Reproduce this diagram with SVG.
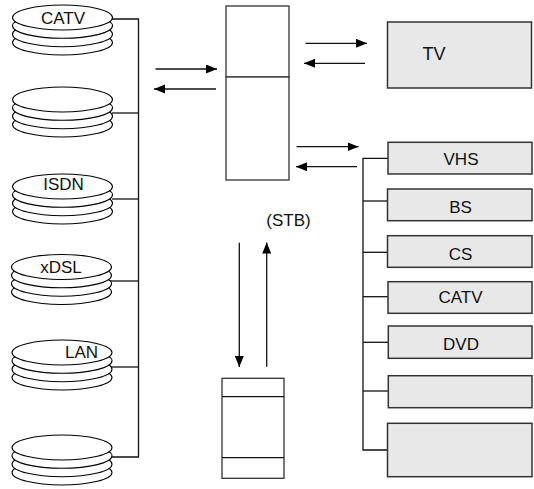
<svg xmlns="http://www.w3.org/2000/svg" width="534" height="489" viewBox="0 0 534 489">
<style>
text{font-family:"Liberation Sans",Arial,sans-serif;font-size:17px;fill:#111;text-anchor:middle}
.disk ellipse{fill:#fff;stroke:#000;stroke-width:1.1}
.box{fill:#e8e8e8;stroke:#333;stroke-width:1.5}
.wb{fill:#fff;stroke:#333;stroke-width:1.3}
.ln{fill:none;stroke:#111;stroke-width:1.3}
.ar{fill:none;stroke:#111;stroke-width:1.3;marker-end:url(#ah)}
</style>
<defs>
<marker id="ah" markerUnits="userSpaceOnUse" markerWidth="12" markerHeight="10" refX="11" refY="4.5" orient="auto">
<path d="M0,0 L11,4.5 L0,9 z" fill="#000"/>
</marker>
<g id="stack" class="disk">
<ellipse cx="0" cy="37.5" rx="50" ry="12.5"/>
<ellipse cx="0" cy="29.2" rx="50" ry="12.5"/>
<ellipse cx="0" cy="20.8" rx="50" ry="12.5"/>
<ellipse cx="0" cy="12.5" rx="50" ry="12.5"/>
</g>
</defs>

<g id="connectors">
<polyline class="ln" points="112,19 138.5,19 138.5,457 112,457"/>
<line class="ln" x1="112" y1="113" x2="138.5" y2="113"/>
<line class="ln" x1="112" y1="199" x2="138.5" y2="199"/>
<line class="ln" x1="110" y1="281" x2="138.5" y2="281"/>
<line class="ln" x1="110" y1="367" x2="138.5" y2="367"/>
<polyline class="ln" points="388,158.3 363,158.3 363,450 388,450"/>
<line class="ln" x1="363" y1="201" x2="388" y2="201"/>
<line class="ln" x1="363" y1="252.3" x2="388" y2="252.3"/>
<line class="ln" x1="363" y1="296.7" x2="388" y2="296.7"/>
<line class="ln" x1="363" y1="342.3" x2="388" y2="342.3"/>
<line class="ln" x1="363" y1="391" x2="388" y2="391"/>
<line class="ar" x1="155.5" y1="69" x2="217" y2="69"/>
<line class="ar" x1="216" y1="89" x2="154" y2="89"/>
<line class="ar" x1="305.5" y1="43.3" x2="367" y2="43.3"/>
<line class="ar" x1="365" y1="63.3" x2="304" y2="63.3"/>
<line class="ar" x1="296.5" y1="146.7" x2="358.5" y2="146.7"/>
<line class="ar" x1="357" y1="166.7" x2="296" y2="166.7"/>
<line class="ar" x1="239.3" y1="242.7" x2="239.3" y2="367"/>
<line class="ar" x1="266.7" y1="366.7" x2="266.7" y2="242.5"/>
</g>

<g id="disk-catv"><use href="#stack" x="62.5" y="5"/><text x="63" y="23.5">CATV</text></g>
<g id="disk-2"><use href="#stack" x="62.5" y="87"/></g>
<g id="disk-isdn"><use href="#stack" x="62.5" y="174"/><text x="63.5" y="190">ISDN</text></g>
<g id="disk-xdsl"><use href="#stack" x="61.5" y="254.5"/><text x="61" y="273.3">xDSL</text></g>
<g id="disk-lan"><use href="#stack" x="62" y="340"/><text x="81.5" y="357.7">LAN</text></g>
<g id="disk-6"><use href="#stack" x="62" y="435"/></g>

<g id="hub">
<rect class="wb" x="226" y="6" width="63" height="71"/>
<rect class="wb" x="226" y="77" width="63" height="103"/>
</g>

<g id="tv"><rect class="box" x="387.5" y="22" width="144" height="66"/><text x="434" y="60" style="font-size:18px">TV</text></g>

<g id="vhs"><rect class="box" x="388" y="142.3" width="144" height="31.7"/><text x="461" y="165">VHS</text></g>
<g id="bs"><rect class="box" x="387.5" y="189" width="144.5" height="31.7"/><text x="460.5" y="212.7">BS</text></g>
<g id="cs"><rect class="box" x="387.5" y="235.7" width="144.5" height="31.6"/><text x="460.5" y="260">CS</text></g>
<g id="catv"><rect class="box" x="388" y="281.7" width="144" height="31.6"/><text x="460.5" y="303.3">CATV</text></g>
<g id="dvd"><rect class="box" x="388.3" y="326" width="143.7" height="32.3"/><text x="461" y="350">DVD</text></g>
<g id="empty1"><rect class="box" x="388.3" y="375.7" width="143.7" height="32"/></g>
<g id="empty2"><rect class="box" x="387.5" y="423.3" width="144.5" height="53.4"/></g>

<g id="stb-label"><text x="288.5" y="226">(STB)</text></g>

<g id="stb">
<rect class="wb" x="222" y="378.3" width="62" height="100"/>
<line class="ln" x1="222" y1="396.7" x2="284" y2="396.7"/>
<line class="ln" x1="222" y1="457.7" x2="284" y2="457.7"/>
</g>
</svg>
